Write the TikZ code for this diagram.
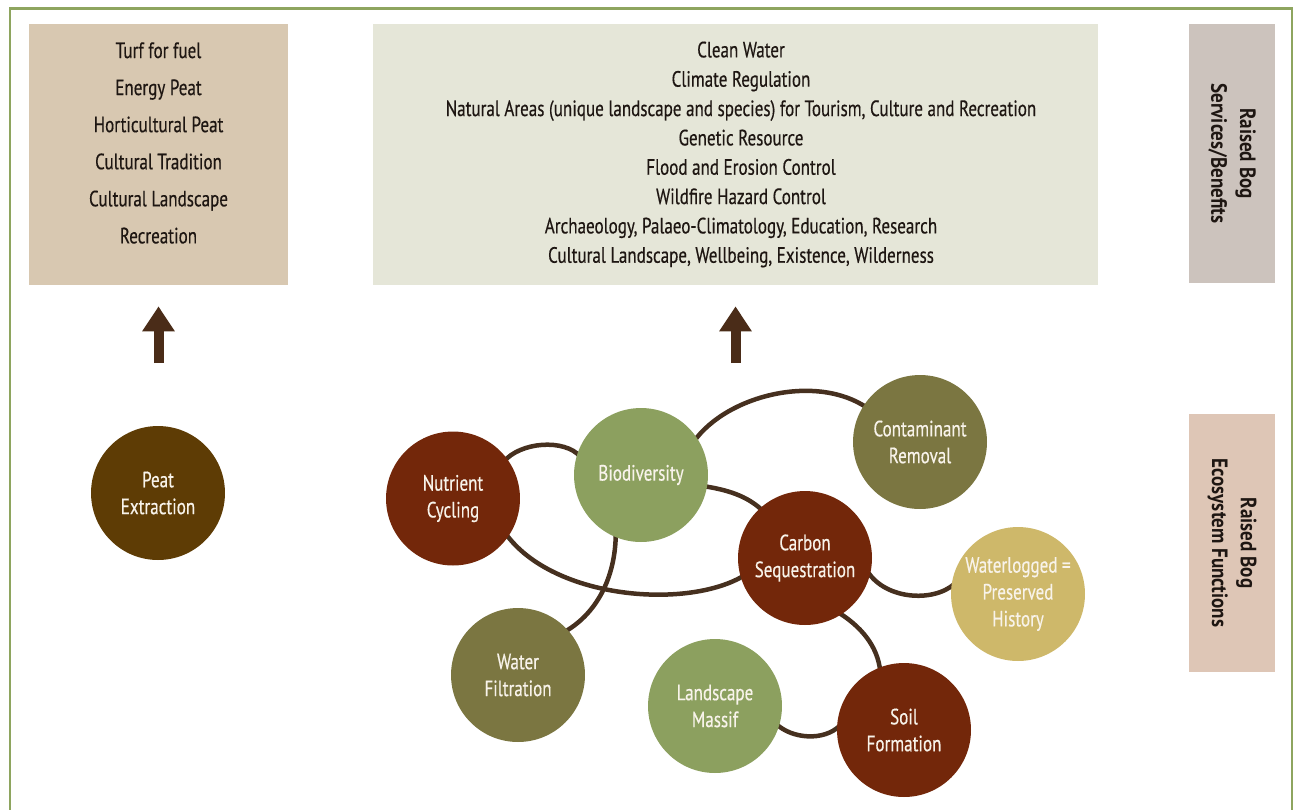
\documentclass[tikz,border=0pt]{standalone}
\usepackage{fontspec}
\setmainfont[FakeStretch=0.77,FakeBold=0.4]{PT Sans}
\newfontfamily\sidefont[FakeStretch=0.86]{PT Sans}
\usetikzlibrary{arrows.meta}
\pgfdeclarelayer{bg}
\pgfsetlayers{bg,main}
\definecolor{framegreen}{HTML}{8EA55F}
\definecolor{lboxc}{HTML}{D8C8B1}
\definecolor{mboxc}{HTML}{E5E6D8}
\definecolor{rtopc}{HTML}{CCC3BD}
\definecolor{rbotc}{HTML}{DEC6B6}
\definecolor{arrowc}{HTML}{4A2C18}
\definecolor{linkc}{HTML}{46301F}
\definecolor{cred}{HTML}{73270A}
\definecolor{cgreen}{HTML}{8CA05F}
\definecolor{colive}{HTML}{7B7641}
\definecolor{cpeat}{HTML}{5E3C05}
\definecolor{cyellow}{HTML}{CEB86A}
\definecolor{txtwhite}{HTML}{F8F3EA}
\definecolor{txtdark}{HTML}{1E1612}
\begin{document}
\begin{tikzpicture}[x=0.02cm,y=-0.02cm,
  box/.style={draw=none,inner sep=0pt,anchor=center},
  boxtext/.style={align=center,text=txtdark,inner sep=0pt},
  fn/.style={circle,minimum size=2.68cm,inner sep=0pt,align=center,text=txtwhite,
    font=\fontsize{12.6}{15.3}\selectfont},
  link/.style={draw=linkc,line width=0.09cm,shorten <=-0.1cm,shorten >=-0.1cm},
  uparrow/.style={draw=arrowc,line width=0.2cm,-{Triangle[width=0.62cm,length=0.5cm]},shorten >=0.42cm},
  sidelabel/.style={rotate=-90,align=center,text=txtdark,
    font=\sidefont\bfseries\fontsize{12.6}{16.4}\selectfont}
]
\useasboundingbox (0,0) rectangle (1297,809);
\clip (0,0) rectangle (1297,809);
\draw[framegreen,line width=0.055cm] (10,830) -- (10,8.7) -- (1292,8.7) -- (1292,830);

% boxes
\node[box,fill=lboxc,minimum width=5.18cm,minimum height=5.22cm] (lbox) at (158.5,154.5) {};
\node[boxtext,font=\fontsize{12.6}{21.1}\selectfont] (ltext) at (158.5,143)
  {Turf for fuel\\Energy Peat\\Horticultural Peat\\Cultural Tradition\\Cultural Landscape\\Recreation};
\node[box,fill=mboxc,minimum width=14.5cm,minimum height=5.22cm] (mbox) at (735.5,154.5) {};
\node[boxtext,font=\fontsize{12.6}{16.7}\selectfont] (mtext) at (741,154.5)
  {Clean Water\\Climate Regulation\\Natural Areas (unique landscape and species) for Tourism, Culture and Recreation\\Genetic Resource\\Flood and Erosion Control\\Wildfire Hazard Control\\Archaeology, Palaeo-Climatology, Education, Research\\Cultural Landscape, Wellbeing, Existence, Wilderness};
\node[box,fill=rtopc,minimum width=1.72cm,minimum height=5.18cm] (rtop) at (1232,153.5) {};
\node[sidelabel] (rtoptext) at (1232,153.5) {Raised Bog\\Services/Benefits};
\node[box,fill=rbotc,minimum width=1.72cm,minimum height=5.16cm] (rbot) at (1232,543) {};
\node[sidelabel] (rbottext) at (1232,543) {Raised Bog\\Ecosystem Functions};

% arrows
\coordinate (a1) at (158.5,363);
\coordinate (a2) at (735.5,363);
\draw[uparrow] (a1) -- (lbox);
\draw[uparrow] (a2) -- (mbox);

% circles
\node[fn,fill=cpeat] (peat) at (158,493) {Peat\\Extraction};
\node[fn,fill=cred] (nc) at (453,498.5) {Nutrient\\Cycling};
\node[fn,fill=cgreen] (bio) at (641,475) {Biodiversity};
\node[fn,fill=colive] (cr) at (920,442) {Contaminant\\Removal};
\node[fn,fill=cred] (cs) at (805,558) {Carbon\\Sequestration};
\node[fn,fill=cyellow] (wl) at (1018,594) {Waterlogged =\\Preserved\\History};
\node[fn,fill=colive] (wf) at (518,675) {Water\\Filtration};
\node[fn,fill=cgreen] (lm) at (715,706) {Landscape\\Massif};
\node[fn,fill=cred] (sf) at (904,730) {Soil\\Formation};

% connectors
\begin{pgfonlayer}{bg}
\draw[link] (nc.37) .. controls +(13,-16) and +(-13,-15) .. (bio.161);
\draw[link] (bio.34) .. controls +(31,-43) and +(-46,-32) .. (cr.147);
\draw[link] (bio.-10) .. controls +(20,3) and +(-12,-12) .. (cs.132);
\draw[link] (nc.-35) .. controls +(45,63) and +(-51,32) .. (cs.197);
\draw[link] (bio.248) .. controls +(0,42) and +(27,-15) .. (wf.42);
\draw[link] (cs.-15) .. controls +(15,24) and +(-18,16) .. (wl.174);
\draw[link] (cs.-57) .. controls +(18,11) and +(-2,-22) .. (sf.111);
\draw[link] (lm.-18) .. controls +(12,12) and +(-13,13) .. (sf.179);
\end{pgfonlayer}
\end{tikzpicture}
\end{document}
